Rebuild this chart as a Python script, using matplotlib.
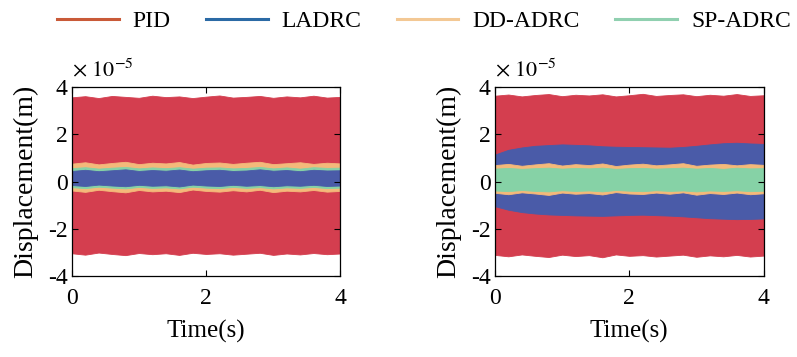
"""Displacement envelopes of four controllers, two cases side by side."""
import numpy as np
import matplotlib
matplotlib.use('Agg')
import matplotlib.pyplot as plt
from matplotlib.lines import Line2D

plt.rcParams['font.family'] = ['Liberation Serif', 'DejaVu Serif']
plt.rcParams['mathtext.fontset'] = 'stix'
plt.rcParams['axes.unicode_minus'] = False

# envelope of each oscillating signal (units of 1e-5 m)
time_s = np.linspace(0, 4, 21)

# left case
pid_up_a = [3.58, 3.63, 3.55, 3.64, 3.60, 3.56, 3.65, 3.59, 3.62, 3.55, 3.61, 3.66, 3.57, 3.60, 3.64, 3.56, 3.62, 3.58, 3.65, 3.57, 3.60]
pid_lo_a = [-3.05, -3.11, -3.02, -3.08, -3.13, -3.04, -3.09, -3.05, -3.12, -3.03, -3.08, -3.05, -3.11, -3.07, -3.03, -3.12, -3.06, -3.10, -3.04, -3.09, -3.06]
ladrc_up_a = [0.45, 0.50, 0.44, 0.48, 0.52, 0.45, 0.49, 0.46, 0.51, 0.44, 0.48, 0.50, 0.45, 0.47, 0.52, 0.46, 0.49, 0.44, 0.50, 0.47, 0.48]
ladrc_lo_a = [-0.15, -0.19, -0.13, -0.17, -0.20, -0.14, -0.18, -0.16, -0.21, -0.13, -0.17, -0.19, -0.14, -0.18, -0.15, -0.20, -0.16, -0.18, -0.14, -0.19, -0.17]
dd_up_a = [0.76, 0.82, 0.73, 0.79, 0.84, 0.74, 0.80, 0.77, 0.83, 0.72, 0.79, 0.81, 0.75, 0.80, 0.84, 0.74, 0.78, 0.82, 0.75, 0.80, 0.77]
dd_lo_a = [-0.38, -0.44, -0.35, -0.41, -0.46, -0.36, -0.42, -0.39, -0.45, -0.34, -0.40, -0.43, -0.37, -0.42, -0.35, -0.45, -0.39, -0.42, -0.36, -0.43, -0.40]
sp_up_a = [0.57, 0.61, 0.55, 0.59, 0.62, 0.56, 0.60, 0.57, 0.61, 0.55, 0.59, 0.60, 0.56, 0.58, 0.62, 0.56, 0.60, 0.55, 0.61, 0.58, 0.59]
sp_lo_a = [-0.24, -0.28, -0.22, -0.26, -0.29, -0.23, -0.27, -0.25, -0.29, -0.22, -0.26, -0.28, -0.23, -0.27, -0.24, -0.29, -0.25, -0.27, -0.23, -0.28, -0.26]

# right case
pid_up_b = [3.65, 3.70, 3.62, 3.68, 3.72, 3.63, 3.69, 3.66, 3.71, 3.62, 3.67, 3.73, 3.64, 3.68, 3.71, 3.63, 3.69, 3.65, 3.72, 3.64, 3.67]
pid_lo_b = [-3.12, -3.18, -3.10, -3.16, -3.21, -3.11, -3.17, -3.13, -3.22, -3.10, -3.16, -3.13, -3.19, -3.15, -3.11, -3.20, -3.14, -3.18, -3.12, -3.19, -3.15]
ladrc_up_b = [1.15, 1.35, 1.45, 1.52, 1.55, 1.58, 1.56, 1.54, 1.50, 1.48, 1.47, 1.46, 1.45, 1.44, 1.47, 1.52, 1.58, 1.63, 1.65, 1.62, 1.60]
ladrc_lo_b = [-1.05, -1.20, -1.30, -1.36, -1.40, -1.42, -1.44, -1.45, -1.46, -1.44, -1.42, -1.41, -1.43, -1.45, -1.48, -1.52, -1.56, -1.58, -1.60, -1.59, -1.57]
dd_up_b = [0.70, 0.75, 0.67, 0.73, 0.78, 0.68, 0.74, 0.70, 0.77, 0.66, 0.72, 0.76, 0.69, 0.73, 0.78, 0.67, 0.72, 0.75, 0.69, 0.74, 0.71]
dd_lo_b = [-0.48, -0.54, -0.46, -0.51, -0.57, -0.47, -0.52, -0.49, -0.55, -0.45, -0.51, -0.53, -0.47, -0.52, -0.46, -0.56, -0.49, -0.53, -0.47, -0.54, -0.50]
sp_up_b = [0.55, 0.58, 0.54, 0.57, 0.59, 0.55, 0.58, 0.56, 0.59, 0.54, 0.57, 0.58, 0.55, 0.57, 0.59, 0.55, 0.58, 0.54, 0.59, 0.56, 0.57]
sp_lo_b = [-0.38, -0.41, -0.36, -0.40, -0.42, -0.37, -0.40, -0.38, -0.42, -0.36, -0.39, -0.41, -0.37, -0.40, -0.38, -0.42, -0.38, -0.40, -0.37, -0.41, -0.39]

names = ['PID', 'LADRC', 'DD-ADRC', 'SP-ADRC']
band_colors = {'PID': '#d43e4f', 'LADRC': '#4a5ba8', 'DD-ADRC': '#f4b97a', 'SP-ADRC': '#86d2a6'}
legend_colors = {'PID': '#c95a38', 'LADRC': '#2b6aa5', 'DD-ADRC': '#f3c894', 'SP-ADRC': '#90d0b0'}

cases = [
    {'PID': (pid_up_a, pid_lo_a), 'DD-ADRC': (dd_up_a, dd_lo_a),
     'SP-ADRC': (sp_up_a, sp_lo_a), 'LADRC': (ladrc_up_a, ladrc_lo_a)},
    {'PID': (pid_up_b, pid_lo_b), 'LADRC': (ladrc_up_b, ladrc_lo_b),
     'DD-ADRC': (dd_up_b, dd_lo_b), 'SP-ADRC': (sp_up_b, sp_lo_b)},
]

fig = plt.figure(figsize=(7.97, 3.57), dpi=100)
ax_pos = [[0.090, 0.228, 0.337, 0.527], [0.621, 0.228, 0.337, 0.527]]

for pos, case in zip(ax_pos, cases):
    ax = fig.add_axes(pos)
    # dict order is drawing order, widest band first
    for name, (up, lo) in case.items():
        ax.fill_between(time_s, lo, up, color=band_colors[name], linewidth=0.6,
                        edgecolor=band_colors[name])
    ax.set_xlim(0, 4)
    ax.set_ylim(-4, 4)
    ax.set_xticks([0, 2, 4])
    ax.set_yticks([-4, -2, 0, 2, 4])
    ax.tick_params(direction='in', top=True, right=True, labelsize=17, length=4,
                   width=0.8)
    ax.tick_params(axis='x', pad=9)
    ax.tick_params(axis='y', pad=3)
    for spine in ax.spines.values():
        spine.set_linewidth(0.9)
    ax.set_xlabel('Time(s)', fontsize=18, labelpad=8)
    ax.set_ylabel('Displacement(m)', fontsize=20, labelpad=7)
    ax.text(0.0, 1.03, r'$\times\ 10^{-5}$', transform=ax.transAxes, fontsize=16,
            ha='left', va='bottom')

handles = [Line2D([], [], color=legend_colors[n], linewidth=2.2) for n in names]
fig.legend(handles, names, loc='upper left', bbox_to_anchor=(0.045, 1.03), ncol=4,
           frameon=False, fontsize=17, handlelength=2.6, handletextpad=0.6,
           columnspacing=1.5)

fig.savefig('out.png', dpi=100)
